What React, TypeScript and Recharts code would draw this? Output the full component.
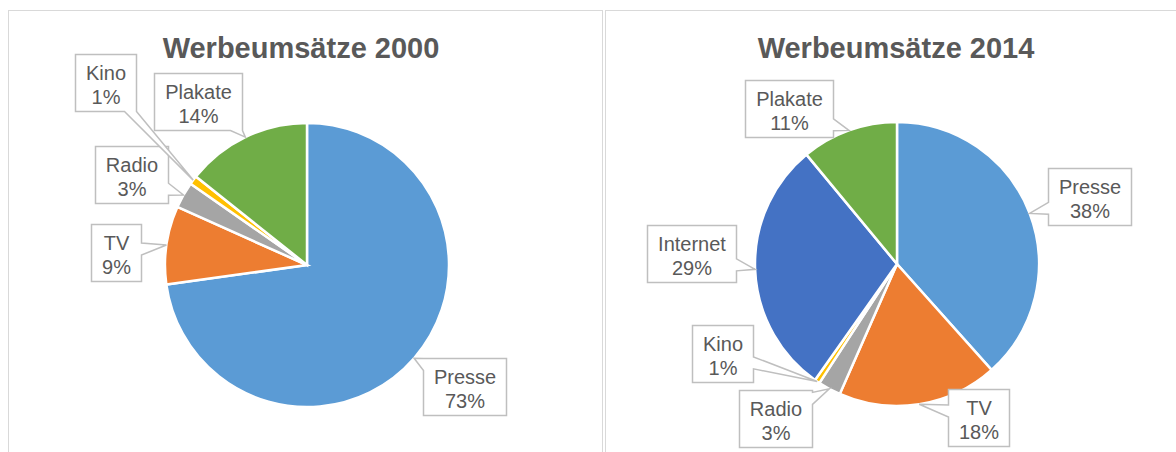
import React from 'react';
import { PieChart, Pie, Cell } from 'recharts';

// ---- data ----
const titles = ['Werbeumsätze 2000', 'Werbeumsätze 2014'];
const categories2000 = ['Presse', 'TV', 'Radio', 'Kino', 'Plakate'];
const values2000 = [72.8, 8.9, 3.0, 1.0, 14.3];
const categories2014 = ['Presse', 'TV', 'Radio', 'Kino', 'Internet', 'Plakate'];
const values2014 = [38.4, 18.2, 2.6, 0.6, 29.2, 11.0];

// ---- styles / layout ----
const COLORS: Record<string, string> = {
  Presse: '#5B9BD5',
  TV: '#ED7D31',
  Radio: '#A5A5A5',
  Kino: '#FFC000',
  Plakate: '#70AD47',
  Internet: '#4472C4',
};
const FONT = "'Liberation Sans', Arial, sans-serif";
const TEXT_COLOR = '#595959';

// label-box centre offsets relative to the pie centre
const labelOffsets2000: Record<string, [number, number]> = {
  Presse: [157, 121.5],
  TV: [-191.5, -13],
  Radio: [-176, -91],
  Kino: [-201.5, -183],
  Plakate: [-109, -163.5],
};
const labelOffsets2014: Record<string, [number, number]> = {
  Presse: [192, -68],
  TV: [81.5, 153],
  Radio: [-122, 154],
  Kino: [-175, 89],
  Internet: [-206, -11],
  Plakate: [-108, -156],
};

const data2000 = categories2000.map((name, i) => ({ name, value: values2000[i] }));
const data2014 = categories2014.map((name, i) => ({ name, value: values2014[i] }));

let ctx: CanvasRenderingContext2D | null = null;
function textWidth(s: string): number {
  if (!ctx && typeof document !== 'undefined') {
    ctx = document.createElement('canvas').getContext('2d');
  }
  if (!ctx) return s.length * 10;
  ctx.font = `20px ${FONT}`;
  return ctx.measureText(s).width;
}

function bubblePath(x0: number, y0: number, x1: number, y1: number, tx: number, ty: number, bw: number) {
  const cxm = (x0 + x1) / 2;
  const cym = (y0 + y1) / 2;
  const dx = tx - cxm;
  const dy = ty - cym;
  const hw = (x1 - x0) / 2;
  const hh = (y1 - y0) / 2;
  const tX = dx !== 0 ? hw / Math.abs(dx) : Infinity;
  const tY = dy !== 0 ? hh / Math.abs(dy) : Infinity;
  let side: string;
  let e: number;
  if (tX < tY) {
    side = dx > 0 ? 'right' : 'left';
    e = cym + dy * tX;
  } else {
    side = dy > 0 ? 'bottom' : 'top';
    e = cxm + dx * tY;
  }
  const clamp = (v: number, a: number, b: number) => Math.max(a, Math.min(b, v));
  const p: string[] = [];
  p.push(`M${x0},${y0}`);
  if (side === 'top') {
    const a = clamp(e - bw / 2, x0, x1 - bw);
    p.push(`L${a},${y0}`, `L${tx},${ty}`, `L${a + bw},${y0}`);
  }
  p.push(`L${x1},${y0}`);
  if (side === 'right') {
    const a = clamp(e - bw / 2, y0, y1 - bw);
    p.push(`L${x1},${a}`, `L${tx},${ty}`, `L${x1},${a + bw}`);
  }
  p.push(`L${x1},${y1}`);
  if (side === 'bottom') {
    const a = clamp(e + bw / 2, x0 + bw, x1);
    p.push(`L${a},${y1}`, `L${tx},${ty}`, `L${a - bw},${y1}`);
  }
  p.push(`L${x0},${y1}`);
  if (side === 'left') {
    const a = clamp(e + bw / 2, y0 + bw, y1);
    p.push(`L${x0},${a}`, `L${tx},${ty}`, `L${x0},${a - bw}`);
  }
  p.push('Z');
  return p.join(' ');
}

function makeLabel(offsets: Record<string, [number, number]>) {
  return (props: any) => {
    const { cx, cy, midAngle, outerRadius, percent } = props;
    const name: string = (props.payload && props.payload.name) || props.name;
    const off = offsets[name] || [0, 0];
    const RAD = Math.PI / 180;
    const tx = cx + outerRadius * Math.cos(-midAngle * RAD);
    const ty = cy + outerRadius * Math.sin(-midAngle * RAD);
    const pct = `${Math.round(percent * 100)}%`;
    const w = Math.round(Math.max(textWidth(name), textWidth(pct)) + 21);
    const h = 57;
    const bx = cx + off[0];
    const by = cy + off[1];
    const x0 = Math.round(bx - w / 2) + 0.5;
    const y0 = Math.round(by - h / 2) + 0.5;
    const x1 = x0 + w;
    const y1 = y0 + h;
    const d = bubblePath(x0, y0, x1, y1, tx, ty, 12);
    const mx = (x0 + x1) / 2;
    return (
      <g key={`lbl-${name}`}>
        <path d={d} fill="#ffffff" stroke="#BFBFBF" strokeWidth={1.5} strokeLinejoin="miter" />
        <text x={mx} y={y0 + 25.5} textAnchor="middle" fontSize={20} fill={TEXT_COLOR} fontFamily={FONT}>
          {name}
        </text>
        <text x={mx} y={y0 + 49} textAnchor="middle" fontSize={20} fill={TEXT_COLOR} fontFamily={FONT}>
          {pct}
        </text>
      </g>
    );
  };
}

const NO_MARGIN = { top: 0, right: 0, bottom: 0, left: 0 };

export default function App() {
  return (
    <div style={{ position: 'fixed', left: 0, top: 0, width: 1176, height: 452, overflow: 'hidden', background: '#fff' }}>
      <svg width={1176} height={452} style={{ position: 'absolute', left: 0, top: 0 }}>
        <rect x={8.5} y={10.5} width={594} height={500} fill="#fff" stroke="#D9D9D9" strokeWidth={1} />
        <rect x={605.5} y={10.5} width={600} height={500} fill="#fff" stroke="#D9D9D9" strokeWidth={1} />
        <text x={301} y={58} textAnchor="middle" fontSize={29} fontWeight="bold" fill={TEXT_COLOR} fontFamily={FONT}>
          {titles[0]}
        </text>
        <text x={896} y={58} textAnchor="middle" fontSize={29} fontWeight="bold" fill={TEXT_COLOR} fontFamily={FONT}>
          {titles[1]}
        </text>
      </svg>
      <div style={{ position: 'absolute', left: 0, top: 0 }}>
        <PieChart width={604} height={452} margin={NO_MARGIN}>
          <Pie
            data={data2000}
            dataKey="value"
            nameKey="name"
            cx={307}
            cy={265}
            outerRadius={142}
            startAngle={90}
            endAngle={-270}
            stroke="#ffffff"
            strokeWidth={2.5}
            isAnimationActive={false}
            labelLine={false}
            label={makeLabel(labelOffsets2000)}
          >
            {data2000.map((d) => (
              <Cell key={d.name} fill={COLORS[d.name]} />
            ))}
          </Pie>
        </PieChart>
      </div>
      <div style={{ position: 'absolute', left: 604, top: 0 }}>
        <PieChart width={572} height={452} margin={NO_MARGIN}>
          <Pie
            data={data2014}
            dataKey="value"
            nameKey="name"
            cx={293}
            cy={264}
            outerRadius={142}
            startAngle={90}
            endAngle={-270}
            stroke="#ffffff"
            strokeWidth={2.5}
            isAnimationActive={false}
            labelLine={false}
            label={makeLabel(labelOffsets2014)}
          >
            {data2014.map((d) => (
              <Cell key={d.name} fill={COLORS[d.name]} />
            ))}
          </Pie>
        </PieChart>
      </div>
    </div>
  );
}
